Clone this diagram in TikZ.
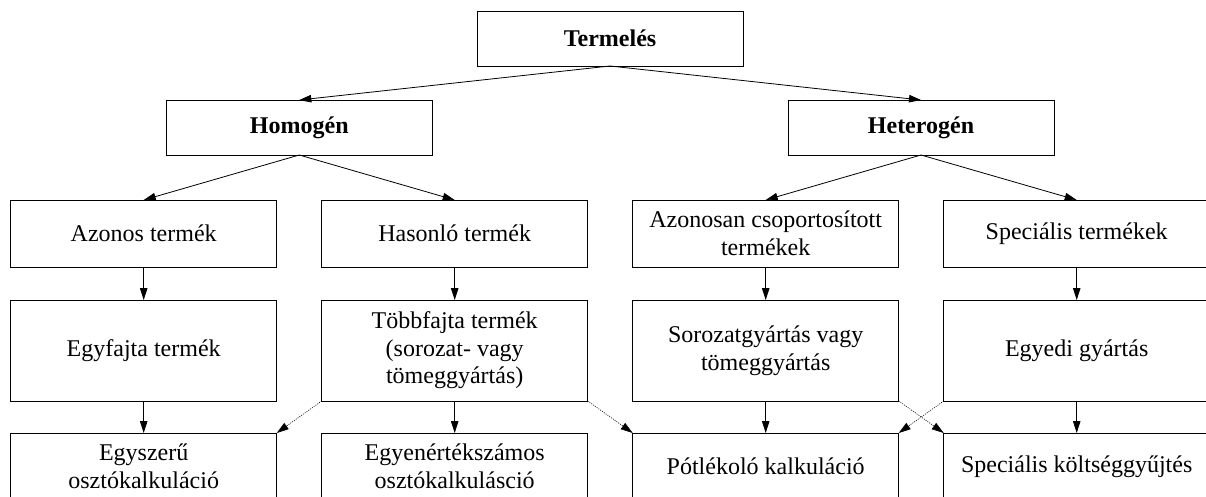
\documentclass[tikz,border=0pt]{standalone}
\usepackage{fontspec}
\setmainfont{Liberation Serif}
\usetikzlibrary{arrows.meta}
\tikzset{
  box/.style={draw, line width=0.8pt, minimum width=266pt, inner sep=0pt, outer sep=0pt,
    align=center, font=\fontsize{24}{27.6}\selectfont},
  boxA/.style={box, minimum height=55pt},
  boxB/.style={box, minimum height=67pt},
  boxC/.style={box, minimum height=101pt},
  arr/.style={line width=0.8pt, -{Triangle[length=12pt,width=7.5pt]}},
  dotarr/.style={line width=0.6pt, dash pattern=on 1pt off 1.2pt, -{Triangle[length=12pt,width=7.5pt]}}
}
\begin{document}
\begin{tikzpicture}[x=1pt, y=-1pt]
\useasboundingbox (0,0) rectangle (1206,497);
% level 1
\node[boxA] (term) at (610,38.5) {\textbf{Termelés}};
% level 2
\node[boxA] (homo) at (299.3,127.5) {\textbf{Homogén}};
\node[boxA] (hete) at (921,127.5) {\textbf{Heterogén}};
% row 2
\node[boxB] (a2) at (143.7,233.5) {Azonos termék};
\node[boxB] (b2) at (454.7,233.5) {Hasonló termék};
\node[boxB] (c2) at (765.7,233.5) {Azonosan csoportosított\\termékek};
\node[boxB] (d2) at (1076.7,233.5) {Speciális termékek};
% row 3
\node[boxC] (a3) at (143.7,350.5) {Egyfajta termék};
\node[boxC] (b3) at (454.7,350.5) {Többfajta termék\\(sorozat- vagy\\tömeggyártás)};
\node[boxC] (c3) at (765.7,350.5) {Sorozatgyártás vagy\\tömeggyártás};
\node[boxC] (d3) at (1076.7,350.5) {Egyedi gyártás};
% row 4
\node[boxB] (a4) at (143.7,466.5) {Egyszerű\\osztókalkuláció};
\node[boxB] (b4) at (454.7,466.5) {Egyenértékszámos\\osztókalkulásció};
\node[boxB] (c4) at (765.7,466.5) {Pótlékoló kalkuláció};
\node[boxB] (d4) at (1076.7,466.5) {Speciális költséggyűjtés};
% connectors
\draw[arr] (term.south) -- (homo.north);
\draw[arr] (term.south) -- (hete.north);
\draw[arr] (homo.south) -- (a2.north);
\draw[arr] (homo.south) -- (b2.north);
\draw[arr] (hete.south) -- (c2.north);
\draw[arr] (hete.south) -- (d2.north);
\foreach \c in {a,b,c,d}{
  \draw[arr] (\c2.south) -- (\c3.north);
  \draw[arr] (\c3.south) -- (\c4.north);
}
\draw[dotarr] (b3.south west) -- (a4.north east);
\draw[dotarr] (b3.south east) -- (c4.north west);
\draw[dotarr] (c3.south east) -- (d4.north west);
\draw[dotarr] (d3.south west) -- (c4.north east);
\end{tikzpicture}
\end{document}
